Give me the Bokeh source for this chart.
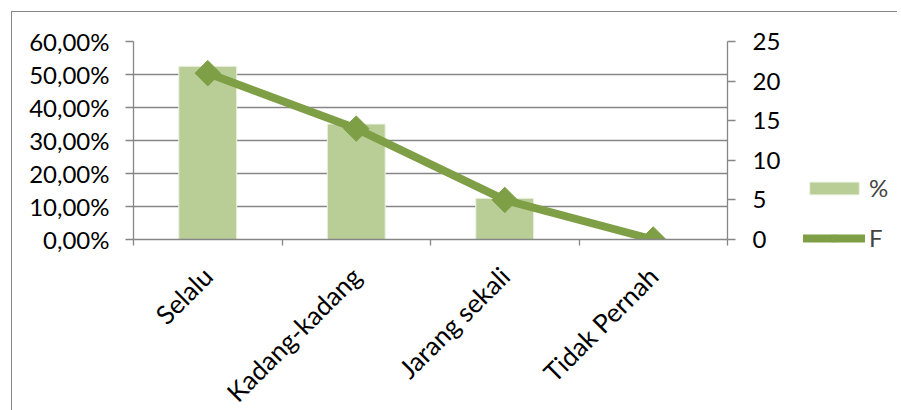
import math
from bokeh.plotting import figure
from bokeh.models import (Range1d, LinearAxis, FixedTicker, Legend, LegendItem,
                          ColumnDataSource)
from bokeh.embed import file_html
from bokeh.resources import INLINE

categories = ["Selalu", "Kadang-kadang", "Jarang sekali", "Tidak Pernah"]
percent = [52.5, 35.0, 12.5, 0.0]
freq = [21, 14, 5, 0]
left_ticks = [0, 10, 20, 30, 40, 50, 60]
left_labels = ["0,00%", "10,00%", "20,00%", "30,00%", "40,00%", "50,00%", "60,00%"]
right_ticks = [0, 5, 10, 15, 20, 25]
series_names = ["%", "F"]

FONT = "Lato"
FS = "24px"
GRID = "#868686"
BAR = "#B9CE96"
LINE = "#7F9F46"

xs = [i + 0.5 for i in range(len(categories))]
src = ColumnDataSource(dict(x=xs, pct=percent, f=freq))

OX, OY = 12, 12  # canvas offset (CSS margin + border)
CH = 395          # canvas height
RB = 70           # right border of main figure
p = figure(frame_width=594, frame_height=198, output_backend="svg", toolbar_location=None,
           x_range=Range1d(0, len(categories)), y_range=Range1d(0, 60),
           min_border_left=133 - OX, min_border_right=RB,
           min_border_top=41 - OY, min_border_bottom=CH + OY - 239)
p.styles = {"margin-left": "11px", "margin-top": "11px",
            "border-left": "1px solid #868686", "border-top": "1px solid #868686"}
p.xaxis.visible = False
p.yaxis.visible = False
p.outline_line_color = None
p.xgrid.visible = False
p.ygrid.ticker = FixedTicker(ticks=left_ticks)
p.ygrid.grid_line_color = GRID
p.ygrid.grid_line_width = 1.3

p.extra_y_ranges = {"f": Range1d(0, 25)}

la = LinearAxis(ticker=FixedTicker(ticks=left_ticks),
                major_label_overrides={t: l for t, l in zip(left_ticks, left_labels)})
ba = LinearAxis(ticker=FixedTicker(ticks=xs, minor_ticks=list(range(len(categories) + 1))),
                major_label_overrides={x: c for x, c in zip(xs, categories)},
                major_label_orientation=math.pi / 4)
ra = LinearAxis(y_range_name="f", ticker=FixedTicker(ticks=right_ticks))

for ax in (la, ba, ra):
    ax.axis_line_color = GRID
    ax.axis_line_width = 1.3
    ax.major_tick_line_color = GRID
    ax.major_tick_line_width = 1.3
    ax.minor_tick_line_color = GRID
    ax.minor_tick_line_width = 1.3
    ax.major_label_text_font = FONT
    ax.major_label_text_font_size = FS
    ax.major_label_text_color = "black"
    ax.major_tick_in = 0
    ax.minor_tick_in = 0

la.major_tick_out = 8
la.minor_tick_out = 0
la.major_label_standoff = 16
ra.major_tick_out = 8
ra.minor_tick_out = 0
ra.major_label_standoff = 17
ba.major_tick_out = 0
ba.minor_tick_out = 6
ba.major_label_standoff = 26
ba.major_label_text_font_size = "26px"

p.add_layout(la, "left")
p.add_layout(ra, "right")
p.add_layout(ba, "below")

p.vbar(x="x", top="pct", width=0.39, source=src, fill_color=BAR,
       line_color="#EEF3E6", line_width=1)
p.line(x="x", y="f", source=src, y_range_name="f", line_color=LINE,
       line_width=8, line_join="round", line_cap="round")
p.scatter(x="x", y="f", source=src, y_range_name="f", marker="square",
          angle=math.pi / 4, size=18, fill_color=LINE, line_color=LINE)

# legend panel: a separate small figure placed to the right of the plot
main_w = OX + 121 + 594 + RB
p2_w = 901 - main_w - 4
p2 = figure(width=p2_w, height=CH, output_backend="svg", toolbar_location=None,
            x_range=Range1d(100, 101), y_range=Range1d(100, 101),
            min_border_left=0, min_border_right=0, min_border_top=0, min_border_bottom=0)
p2.styles = {"position": "absolute", "left": f"{main_w}px", "top": "11px",
             "border-top": "1px solid #868686"}
p2.axis.visible = False
p2.grid.visible = False
p2.outline_line_color = None
lb = p2.vbar(x="x", top="pct", width=0.39, source=src, fill_color=BAR,
             line_color="#EEF3E6")
ll = p2.line(x="x", y="f", source=src, line_color=LINE, line_width=8,
             line_cap="round")
lm = p2.scatter(x="x", y="f", source=src, marker="square", angle=math.pi / 4,
                size=18, fill_color=LINE, line_color=LINE)
legend = Legend(items=[LegendItem(label=series_names[0], renderers=[lb]),
                       LegendItem(label=series_names[1], renderers=[ll, lm])],
                location=(803 - main_w, 155), glyph_width=62, glyph_height=16,
                label_height=20, spacing=21, padding=0, margin=0,
                label_standoff=4, border_line_alpha=0, background_fill_alpha=0,
                label_text_font=FONT, label_text_font_size=FS)
p2.add_layout(legend, "center")

open("out.html", "w").write(file_html([p, p2], INLINE))
